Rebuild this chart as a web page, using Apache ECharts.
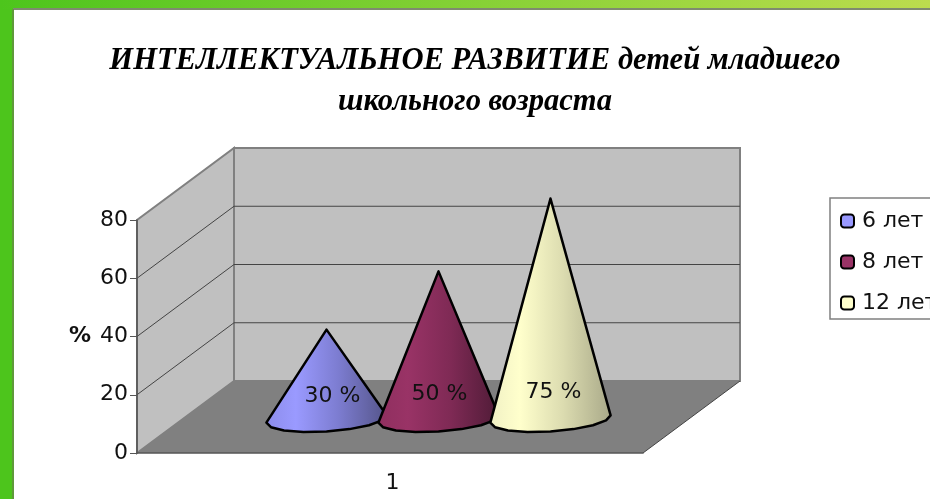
<!DOCTYPE html>
<html>
<head>
	<meta charset="UTF-8">
	<title>Интеллектуальное развитие</title>
	<style type="text/css">
		html, body { margin: 0; padding: 0; background: #fff; }
		#chart { width: 930px; height: 499px; }
	</style>
</head>
<body>
	<div id="chart"></div>
	<script src="https://cdn.jsdelivr.net/npm/echarts@6/dist/echarts.min.js"></script>
	<script>
		var categories = ['1'];
		var yTicks = [0, 20, 40, 60, 80];
		var seriesNames = ['6 лет', '8 лет', '12 лет'];
		var seriesValues = [30, 50, 75];
		var seriesLabels = ['30 %', '50 %', '75 %'];

		// light / mid / shadow of each cone
		var coneColors = [
			['#8c8cea', '#9a9aff', '#7c7cd0', '#545488'],
			['#8f2f5f', '#993366', '#7f2a55', '#4e1b36'],
			['#f0f0c4', '#ffffcc', '#dcdcb0', '#a8a888']
		];
		var legendColors = ['#9999ff', '#993366', '#ffffcc'];
		// small shift of the percent text from the cone axis
		var labelShift = [[6, -23], [1, -25], [3, -27]];

		// the fake depth of the 3d box, in px
		var depthX = 97, depthY = -72;

		var chart = echarts.init(document.getElementById('chart'), null, { renderer: 'canvas' });

		function renderBox(params, api) {
			var x0 = params.coordSys.x, x1 = x0 + params.coordSys.width;
			var yBottom = api.coord([0, yTicks[0]])[1];
			var yTop = api.coord([0, yTicks[yTicks.length - 1]])[1];
			var wall = { fill: '#c0c0c0', stroke: '#808080', lineWidth: 2 };
			var kids = [
				{ type: 'polygon', shape: { points: [[x0, yBottom], [x0 + depthX, yBottom + depthY], [x0 + depthX, yTop + depthY], [x0, yTop]] }, style: wall },
				{ type: 'polygon', shape: { points: [[x0 + depthX, yBottom + depthY], [x1 + depthX, yBottom + depthY], [x1 + depthX, yTop + depthY], [x0 + depthX, yTop + depthY]] }, style: wall },
				{ type: 'polygon', shape: { points: [[x0, yBottom], [x1, yBottom], [x1 + depthX, yBottom + depthY], [x0 + depthX, yBottom + depthY]] }, style: { fill: '#808080', stroke: null } },
				{ type: 'line', shape: { x1: x1, y1: yBottom, x2: x1 + depthX, y2: yBottom + depthY }, style: { stroke: '#444', lineWidth: 1 } }
			];
			for (var i = 1; i < yTicks.length - 1; i++) {
				var y = api.coord([0, yTicks[i]])[1];
				kids.push({ type: 'line', shape: { x1: x0, y1: y, x2: x0 + depthX, y2: y + depthY }, style: { stroke: '#444', lineWidth: 1 } });
				kids.push({ type: 'line', shape: { x1: x0 + depthX, y1: y + depthY, x2: x1 + depthX, y2: y + depthY }, style: { stroke: '#444', lineWidth: 1 } });
			}
			return { type: 'group', children: kids };
		}

		function makeCone(idx) {
			return function (params, api) {
				var band = api.size([1, 0])[0];
				var base = api.coord([api.value(0), 0]);
				var tip = api.coord([api.value(0), api.value(1)]);
				var sx = (idx - 1) * band * 0.2213 + depthX / 2;
				var sy = depthY / 2;
				var cx = base[0] + sx, cy = base[1] + sy + 2;
				var ax = tip[0] + sx, ay = tip[1] + sy;
				var R = band * 0.114, dx = 17, dy = 13;
				var t0 = Math.atan2(dx, R);
				var pts = [[ax, ay]];
				// front half of the base, few steps so that it stays a bit lumpy like the source
				var steps = 8;
				for (var s = 0; s <= steps; s++) {
					var t = Math.PI + t0 + Math.PI * s / steps;
					pts.push([cx + R * Math.cos(t) + dx * Math.sin(t), cy - dy * Math.sin(t)]);
				}
				var c = coneColors[idx];
				return {
					type: 'group',
					children: [{
						type: 'polygon',
						shape: { points: pts },
						style: {
							fill: new echarts.graphic.LinearGradient(0, 0, 1, 0, [
								{ offset: 0, color: c[0] },
								{ offset: 0.25, color: c[1] },
								{ offset: 0.6, color: c[2] },
								{ offset: 1, color: c[3] }
							]),
							stroke: '#000',
							lineWidth: 2.5,
							lineJoin: 'round'
						}
					}, {
						type: 'text',
						style: {
							text: seriesLabels[idx],
							x: cx + labelShift[idx][0],
							y: cy + labelShift[idx][1],
							align: 'center',
							verticalAlign: 'middle',
							fill: '#111',
							font: '22px "DejaVu Sans"'
						}
					}]
				};
			};
		}

		var series = [{
			name: 'box',
			type: 'custom',
			z: 1,
			silent: true,
			renderItem: renderBox,
			encode: { x: 0, y: 1 },
			data: [[0, 0]]
		}];
		for (var i = 0; i < seriesNames.length; i++) {
			series.push({
				name: seriesNames[i],
				type: 'custom',
				z: 3 + i,
				renderItem: makeCone(i),
				encode: { x: 0, y: 1 },
				itemStyle: { color: legendColors[i] },
				data: [[0, seriesValues[i]]]
			});
		}

		var option = {
			animation: false,
			backgroundColor: '#fff',
			graphic: [
				{ type: 'rect', z: -1, shape: { x: 0, y: 0, width: 13, height: 499 }, style: { fill: '#4dc51c' } },
				{
					type: 'rect', z: -1, shape: { x: 0, y: 0, width: 930, height: 9 },
					style: {
						fill: new echarts.graphic.LinearGradient(0, 0, 1, 0, [
							{ offset: 0, color: '#4dc51c' },
							{ offset: 1, color: '#bcdc4e' }
						])
					}
				},
				{ type: 'line', z: -1, shape: { x1: 13, y1: 9, x2: 930, y2: 9 }, style: { stroke: '#7f8a70', lineWidth: 2 } },
				{ type: 'line', z: -1, shape: { x1: 13, y1: 9, x2: 13, y2: 499 }, style: { stroke: '#5f9a3a', lineWidth: 2 } }
			],
			title: {
				text: 'ИНТЕЛЛЕКТУАЛЬНОЕ РАЗВИТИЕ детей младшего\nшкольного возраста',
				left: 470,
				top: 36,
				textAlign: 'center',
				textStyle: {
					fontFamily: '"Liberation Serif"',
					fontStyle: 'italic',
					fontWeight: 'bold',
					fontSize: 30.6,
					lineHeight: 41,
					color: '#000'
				}
			},
			legend: {
				data: seriesNames.map(function (n, i) {
					return { name: n, itemStyle: { color: legendColors[i], borderColor: '#000', borderWidth: 2 } };
				}),
				orient: 'vertical',
				left: 830,
				top: 198,
				icon: 'roundRect',
				itemWidth: 13,
				itemHeight: 13,
				itemGap: 19,
				padding: [12, 30, 5, 10],
				borderColor: '#808080',
				borderWidth: 1.5,
				textStyle: { fontFamily: '"DejaVu Sans"', fontSize: 22, color: '#111', padding: [2, 0, 0, 3] },
				selectedMode: false
			},
			grid: { left: 137, top: 220, width: 506, height: 233 },
			xAxis: {
				type: 'category',
				data: categories,
				z: 5,
				axisLine: { lineStyle: { color: '#555', width: 1.5 } },
				axisTick: { length: 6, lineStyle: { color: '#555' } },
				axisLabel: { fontFamily: '"DejaVu Sans"', fontSize: 22, color: '#111', margin: 17, padding: [2, 0, 0, 5] }
			},
			yAxis: {
				type: 'value',
				min: 0,
				max: 80,
				interval: 20,
				z: 5,
				name: '%',
				nameLocation: 'middle',
				nameRotate: 0,
				nameGap: 46,
				nameTextStyle: { fontFamily: '"DejaVu Sans"', fontWeight: 'bold', fontSize: 22, color: '#111', padding: [4, 0, 0, 0] },
				axisLine: { show: true, lineStyle: { color: '#555', width: 1.5 } },
				axisTick: { show: true, length: 7, lineStyle: { color: '#555' } },
				splitLine: { show: false },
				axisLabel: { fontFamily: '"DejaVu Sans"', fontSize: 22, color: '#111', margin: 9, padding: [4, 0, 0, 0] }
			},
			series: series
		};
		chart.setOption(option);
	</script>
</body>
</html>
